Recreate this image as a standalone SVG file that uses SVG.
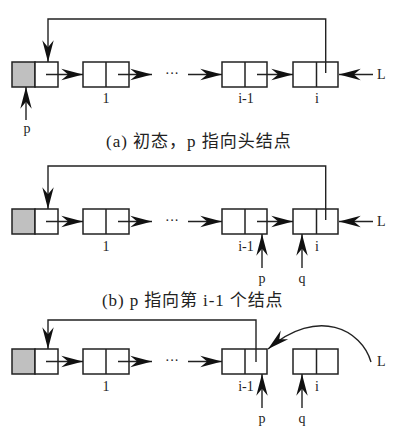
<svg xmlns="http://www.w3.org/2000/svg" width="403" height="444" viewBox="0 0 403 444">
<style>
.box{fill:#fff;stroke:#222;stroke-width:1.5}
.head{fill:#c0c0c0;stroke:#222;stroke-width:1.5}
.div{stroke:#222;stroke-width:1.5}
.arr{fill:none;stroke:#222;stroke-width:1.4;marker-end:url(#ah)}
.lbl{font-family:"Liberation Serif","DejaVu Serif",serif;font-size:14px;fill:#222;text-anchor:middle}
.lbs{font-family:"Liberation Serif","DejaVu Serif",serif;font-size:14px;fill:#222}
.cap{font-family:"Liberation Serif","Noto Sans CJK SC",serif;font-size:17px;fill:#222}
.dots{font-family:"Liberation Serif",serif;font-size:14px;fill:#222;text-anchor:middle}
</style>
<defs>
<marker id="ah" markerUnits="userSpaceOnUse" markerWidth="24" markerHeight="14" viewBox="-20 -6 21 12" refX="0" refY="0" orient="auto">
<path d="M0,0 L-19,-5 L-13,0 L-19,5 Z" fill="#111"/>
</marker>
</defs>

<!-- Row (a) -->
<g id="a-head"><rect class="head" x="12" y="62" width="23" height="25"/><rect class="box" x="35" y="62" width="23" height="25"/></g>
<g id="a-n1"><rect class="box" x="83" y="62" width="46" height="25"/><line class="div" x1="106" y1="62" x2="106" y2="87"/><text class="lbl" x="106" y="103">1</text></g>
<g id="a-ni1"><rect class="box" x="222" y="62" width="45" height="25"/><line class="div" x1="245" y1="62" x2="245" y2="87"/><text class="lbl" x="246" y="103">i-1</text></g>
<g id="a-ni"><rect class="box" x="293" y="62" width="45" height="25"/><line class="div" x1="316.5" y1="62" x2="316.5" y2="87"/><text class="lbl" x="317" y="103">i</text></g>
<g id="a-dots"><text class="dots" x="172" y="77.5">···</text></g>
<g id="a-connectors">
<path class="arr" d="M46,74.5 H83"/>
<path class="arr" d="M118,74.5 H152"/>
<path class="arr" d="M188,74.5 H222"/>
<path class="arr" d="M257,74.5 H293"/>
<path class="arr" d="M325.7,73 V19 H48 V62"/>
<path class="arr" d="M373,74.5 H339"/>
<path class="arr" d="M26,120 V87"/>
</g>
<text class="lbs" x="377" y="79">L</text>
<text class="lbl" x="27" y="133">p</text>
<text class="cap" x="106" y="147" letter-spacing="1">(a)  初态，p 指向头结点</text>

<!-- Row (b) -->
<g id="b-head"><rect class="head" x="12" y="209" width="23" height="25"/><rect class="box" x="35" y="209" width="23" height="25"/></g>
<g id="b-n1"><rect class="box" x="83" y="209" width="46" height="25"/><line class="div" x1="106" y1="209" x2="106" y2="234"/><text class="lbl" x="106" y="251">1</text></g>
<g id="b-ni1"><rect class="box" x="222" y="209" width="45" height="25"/><line class="div" x1="245" y1="209" x2="245" y2="234"/><text class="lbl" x="246" y="251">i-1</text></g>
<g id="b-ni"><rect class="box" x="293" y="209" width="45" height="25"/><line class="div" x1="316.5" y1="209" x2="316.5" y2="234"/><text class="lbl" x="317" y="251">i</text></g>
<g id="b-dots"><text class="dots" x="172" y="224.5">···</text></g>
<g id="b-connectors">
<path class="arr" d="M46,221.5 H83"/>
<path class="arr" d="M118,221.5 H152"/>
<path class="arr" d="M188,221.5 H222"/>
<path class="arr" d="M257,221.5 H293"/>
<path class="arr" d="M325.7,220 V166 H48 V209"/>
<path class="arr" d="M373,221.5 H339"/>
<path class="arr" d="M262,268 V234"/>
<path class="arr" d="M302,268 V234"/>
</g>
<text class="lbs" x="377" y="226">L</text>
<text class="lbl" x="262" y="283">p</text>
<text class="lbl" x="302" y="283">q</text>
<text class="cap" x="102" y="306" letter-spacing="0.9">(b) p 指向第 i-1 个结点</text>

<!-- Row (c) -->
<g id="c-head"><rect class="head" x="12" y="349" width="23" height="25"/><rect class="box" x="35" y="349" width="23" height="25"/></g>
<g id="c-n1"><rect class="box" x="83" y="349" width="46" height="25"/><line class="div" x1="106" y1="349" x2="106" y2="374"/><text class="lbl" x="106" y="391">1</text></g>
<g id="c-ni1"><rect class="box" x="222" y="349" width="45" height="25"/><line class="div" x1="245" y1="349" x2="245" y2="374"/><text class="lbl" x="246" y="391">i-1</text></g>
<g id="c-ni"><rect class="box" x="293" y="349" width="45" height="25"/><line class="div" x1="316.5" y1="349" x2="316.5" y2="374"/><text class="lbl" x="317" y="391">i</text></g>
<g id="c-dots"><text class="dots" x="172" y="364.5">···</text></g>
<g id="c-connectors">
<path class="arr" d="M46,361.5 H83"/>
<path class="arr" d="M118,361.5 H152"/>
<path class="arr" d="M188,361.5 H222"/>
<path class="arr" d="M256,362 V320 H48 V349"/>
<path class="arr" d="M371,362 C362,330 318,306 268,349"/>
<path class="arr" d="M262,408 V374"/>
<path class="arr" d="M302,408 V374"/>
</g>
<text class="lbs" x="377" y="366">L</text>
<text class="lbl" x="262" y="423">p</text>
<text class="lbl" x="302" y="423">q</text>
</svg>
